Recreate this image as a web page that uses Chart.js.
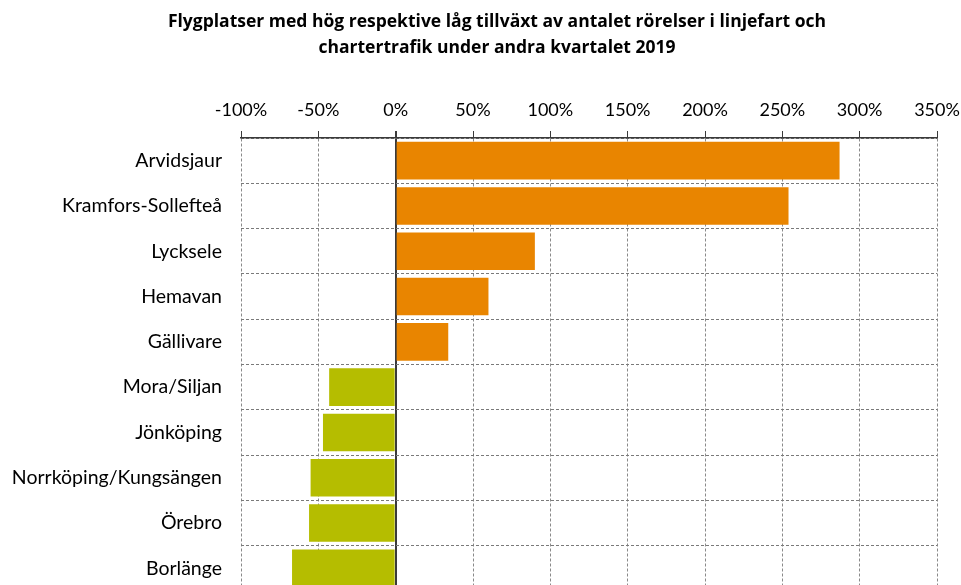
<!DOCTYPE html>
<html>
<head>
<meta charset="utf-8">
<script src="https://cdn.jsdelivr.net/npm/chart.js@4/dist/chart.umd.min.js"></script>
<style>
  html, body { margin: 0; padding: 0; background: #fff; overflow: hidden; }
  #wrap { position: relative; width: 961px; height: 600px; }
  #title {
    position: absolute; left: 0; top: 7px; width: 994px;
    text-align: center; color: #000;
    font: bold 17.5px/26px "Open Sans", sans-serif;
  }
</style>
</head>
<body>
<div id="wrap">
  <canvas id="chart" width="961" height="600"></canvas>
  <div id="title"></div>
</div>
<script>
// Data (förändring i procent)
const airports = [
  'Arvidsjaur', 'Kramfors-Sollefteå', 'Lycksele', 'Hemavan', 'Gällivare',
  'Mora/Siljan', 'Jönköping', 'Norrköping/Kungsängen', 'Örebro', 'Borlänge'
];
const growth = [287, 254, 90, 60, 34, -43, -47, -55, -56, -67];
const titleLines = [
  'Flygplatser med hög respektive låg tillväxt av antalet rörelser i linjefart och',
  'chartertrafik under andra kvartalet 2019'
];

const ORANGE = '#e98500';
const GREEN = '#b5bd00';
const FONT = 'Lato, "Open Sans", sans-serif';

document.getElementById('title').innerHTML = titleLines.join('<br>');

// no automatic label padding, keep the plot area where it is in the original
function noPad(s) {
  s.paddingTop = s.paddingBottom = s.paddingLeft = s.paddingRight = 0;
}

new Chart(document.getElementById('chart'), {
  type: 'bar',
  data: {
    labels: airports,
    datasets: [{
      data: growth,
      backgroundColor: growth.map(v => v >= 0 ? ORANGE : GREEN),
      borderWidth: 0,
      categoryPercentage: 1,
      barPercentage: 0.83
    }]
  },
  options: {
    indexAxis: 'y',
    responsive: false,
    animation: false,
    layout: { padding: { left: 10, right: 24, top: 97, bottom: 9 } },
    plugins: {
      legend: { display: false },
      tooltip: { enabled: false },
      title: { display: false }
    },
    scales: {
      x: {
        position: 'top',
        min: -100,
        max: 350,
        afterFit: s => { noPad(s); s.height = 41; },
        ticks: {
          stepSize: 50,
          color: '#000',
          padding: 10,
          font: { family: FONT, size: 18 },
          callback: v => v + '%'
        },
        grid: {
          color: c => (c.tick && c.tick.value === 0) ? '#3a3a3a' : '#8a8a8a',
          lineWidth: c => (c.tick && c.tick.value === 0) ? 2 : 1,
          tickColor: '#3a3a3a',
          tickLength: 7
        },
        border: {
          display: true,
          color: '#3a3a3a',
          width: 1.5,
          dash: c => (c.type === 'scale' || (c.tick && c.tick.value === 0)) ? [] : [3, 2]
        }
      },
      y: {
        afterFit: s => { noPad(s); s.width = 231; },
        ticks: {
          color: '#000',
          padding: 19,
          font: { family: FONT, size: 19.5 }
        },
        grid: {
          offset: true,
          color: '#7a7a7a',
          lineWidth: 1,
          drawTicks: false
        },
        border: { display: false, dash: [3, 2] }
      }
    }
  }
});
</script>
</body>
</html>
